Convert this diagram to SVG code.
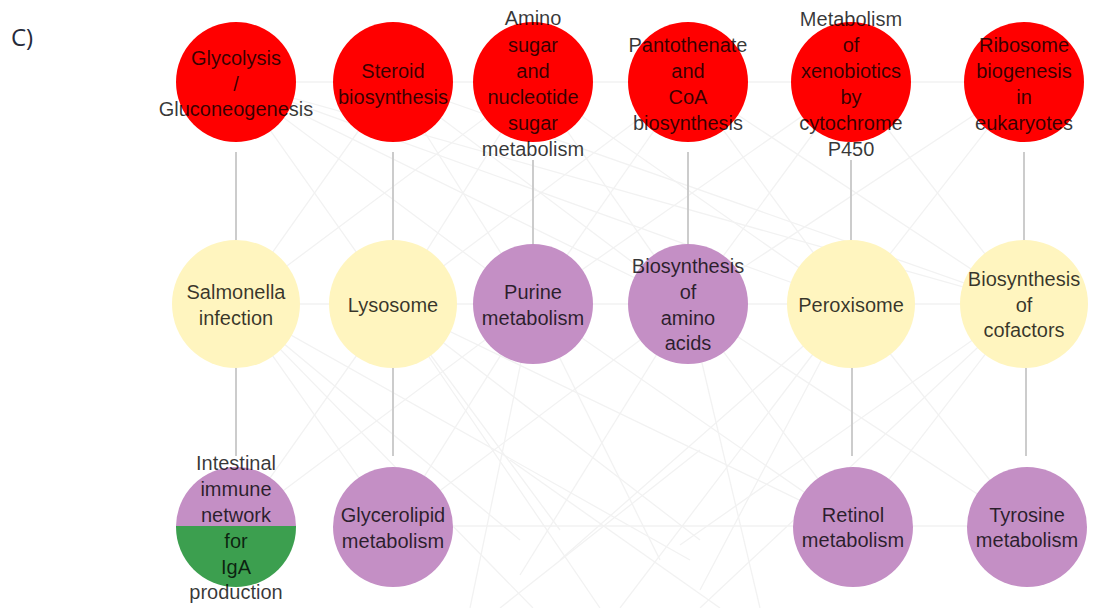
<svg xmlns="http://www.w3.org/2000/svg" width="1096" height="608" viewBox="0 0 1096 608">
  <style>
    .bg { fill: #ffffff; }
    .faint line { stroke: #f2f2f2; stroke-width: 1.3; }
    .edge { stroke: #cccccc; stroke-width: 2; }
    .red { fill: #ff0000; }
    .yellow { fill: #fff5bf; }
    .purple { fill: #c48fc5; }
    .green { fill: #3c9f4f; }
    text.lbl { font-family: "Liberation Sans", Arial, sans-serif; font-size: 20px; fill: #000000; fill-opacity: 0.78; text-anchor: middle; }
    text.tag { font-family: "Open Sans", "Liberation Sans", sans-serif; font-size: 24px; fill: #262a3a; }
  </style>
  <defs>
    <clipPath id="topHalf"><rect x="170" y="460" width="132" height="66"/></clipPath>
    <clipPath id="bottomHalf"><rect x="170" y="526" width="132" height="70"/></clipPath>
  </defs>
  <rect class="bg" x="0" y="0" width="1096" height="608"/>

  <text class="tag" x="11" y="46">C)</text>

  <!-- light background network -->
  <g id="connectors">
    <g class="faint">
      <line x1="236" y1="82" x2="1024" y2="82"/>
      <line x1="236" y1="304" x2="1024" y2="304"/>
      <line x1="393" y1="526" x2="1026" y2="526"/>
      <line x1="236" y1="82" x2="393" y2="304"/>
      <line x1="236" y1="82" x2="533" y2="304"/>
      <line x1="236" y1="82" x2="688" y2="304"/>
      <line x1="236" y1="82" x2="851" y2="304"/>
      <line x1="393" y1="82" x2="236" y2="304"/>
      <line x1="393" y1="82" x2="533" y2="304"/>
      <line x1="393" y1="82" x2="688" y2="304"/>
      <line x1="393" y1="82" x2="1024" y2="304"/>
      <line x1="533" y1="82" x2="236" y2="304"/>
      <line x1="533" y1="82" x2="393" y2="304"/>
      <line x1="533" y1="82" x2="688" y2="304"/>
      <line x1="533" y1="82" x2="851" y2="304"/>
      <line x1="688" y1="82" x2="393" y2="304"/>
      <line x1="688" y1="82" x2="533" y2="304"/>
      <line x1="688" y1="82" x2="851" y2="304"/>
      <line x1="688" y1="82" x2="1024" y2="304"/>
      <line x1="851" y1="82" x2="533" y2="304"/>
      <line x1="851" y1="82" x2="688" y2="304"/>
      <line x1="851" y1="82" x2="1024" y2="304"/>
      <line x1="1024" y1="82" x2="688" y2="304"/>
      <line x1="1024" y1="82" x2="851" y2="304"/>
      <line x1="236" y1="82" x2="1024" y2="304"/>
      <line x1="236" y1="304" x2="393" y2="526"/>
      <line x1="236" y1="304" x2="520" y2="540"/>
      <line x1="236" y1="304" x2="690" y2="560"/>
      <line x1="236" y1="304" x2="533" y2="608"/>
      <line x1="393" y1="304" x2="236" y2="526"/>
      <line x1="393" y1="304" x2="560" y2="530"/>
      <line x1="393" y1="304" x2="700" y2="540"/>
      <line x1="393" y1="304" x2="853" y2="526"/>
      <line x1="393" y1="304" x2="600" y2="608"/>
      <line x1="533" y1="304" x2="236" y2="526"/>
      <line x1="533" y1="304" x2="393" y2="526"/>
      <line x1="533" y1="304" x2="660" y2="560"/>
      <line x1="533" y1="304" x2="853" y2="526"/>
      <line x1="533" y1="304" x2="470" y2="608"/>
      <line x1="688" y1="304" x2="393" y2="526"/>
      <line x1="688" y1="304" x2="520" y2="575"/>
      <line x1="688" y1="304" x2="853" y2="526"/>
      <line x1="688" y1="304" x2="1026" y2="526"/>
      <line x1="688" y1="304" x2="760" y2="608"/>
      <line x1="851" y1="304" x2="560" y2="560"/>
      <line x1="851" y1="304" x2="700" y2="590"/>
      <line x1="851" y1="304" x2="1026" y2="526"/>
      <line x1="851" y1="304" x2="620" y2="608"/>
      <line x1="1024" y1="304" x2="680" y2="545"/>
      <line x1="1024" y1="304" x2="853" y2="526"/>
      <line x1="1024" y1="304" x2="700" y2="608"/>
      <line x1="510" y1="460" x2="720" y2="608"/>
      <line x1="700" y1="450" x2="500" y2="608"/>
    </g>
    <!-- column links -->
    <line class="edge" x1="236" y1="152" x2="236" y2="240"/>
    <line class="edge" x1="393" y1="152" x2="393" y2="240"/>
    <line class="edge" x1="533" y1="160" x2="533" y2="244"/>
    <line class="edge" x1="688" y1="152" x2="688" y2="244"/>
    <line class="edge" x1="851" y1="160" x2="851" y2="240"/>
    <line class="edge" x1="1024" y1="152" x2="1024" y2="240"/>
    <line class="edge" x1="236" y1="368" x2="236" y2="456"/>
    <line class="edge" x1="393" y1="368" x2="393" y2="456"/>
    <line class="edge" x1="852" y1="368" x2="852" y2="456"/>
    <line class="edge" x1="1026" y1="368" x2="1026" y2="456"/>
  </g>

  <!-- top row -->
  <g id="glycolysis">
    <circle class="red" cx="236" cy="82" r="60"/>
    <text class="lbl" x="236" y="65">Glycolysis</text>
    <text class="lbl" x="236" y="91">/</text>
    <text class="lbl" x="236" y="116">Gluconeogenesis</text>
  </g>
  <g id="steroid">
    <circle class="red" cx="393" cy="82" r="60"/>
    <text class="lbl" x="393" y="78">Steroid</text>
    <text class="lbl" x="393" y="104">biosynthesis</text>
  </g>
  <g id="amino-sugar">
    <circle class="red" cx="533" cy="82" r="60"/>
    <text class="lbl" x="533" y="25">Amino</text>
    <text class="lbl" x="533" y="52">sugar</text>
    <text class="lbl" x="533" y="78">and</text>
    <text class="lbl" x="533" y="104">nucleotide</text>
    <text class="lbl" x="533" y="130">sugar</text>
    <text class="lbl" x="533" y="156">metabolism</text>
  </g>
  <g id="pantothenate">
    <circle class="red" cx="688" cy="82" r="60"/>
    <text class="lbl" x="688" y="52">Pantothenate</text>
    <text class="lbl" x="688" y="78">and</text>
    <text class="lbl" x="688" y="104">CoA</text>
    <text class="lbl" x="688" y="130">biosynthesis</text>
  </g>
  <g id="xenobiotics">
    <circle class="red" cx="851" cy="82" r="60"/>
    <text class="lbl" x="851" y="26">Metabolism</text>
    <text class="lbl" x="851" y="52">of</text>
    <text class="lbl" x="851" y="78">xenobiotics</text>
    <text class="lbl" x="851" y="104">by</text>
    <text class="lbl" x="851" y="130">cytochrome</text>
    <text class="lbl" x="851" y="156">P450</text>
  </g>
  <g id="ribosome">
    <circle class="red" cx="1024" cy="82" r="60"/>
    <text class="lbl" x="1024" y="52">Ribosome</text>
    <text class="lbl" x="1024" y="78">biogenesis</text>
    <text class="lbl" x="1024" y="104">in</text>
    <text class="lbl" x="1024" y="130">eukaryotes</text>
  </g>

  <!-- middle row -->
  <g id="salmonella">
    <circle class="yellow" cx="236" cy="304" r="64"/>
    <text class="lbl" x="236" y="299">Salmonella</text>
    <text class="lbl" x="236" y="325">infection</text>
  </g>
  <g id="lysosome">
    <circle class="yellow" cx="393" cy="304" r="64"/>
    <text class="lbl" x="393" y="312">Lysosome</text>
  </g>
  <g id="purine">
    <circle class="purple" cx="533" cy="304" r="60"/>
    <text class="lbl" x="533" y="299">Purine</text>
    <text class="lbl" x="533" y="325">metabolism</text>
  </g>
  <g id="amino-acids">
    <circle class="purple" cx="688" cy="304" r="60"/>
    <text class="lbl" x="688" y="273">Biosynthesis</text>
    <text class="lbl" x="688" y="299">of</text>
    <text class="lbl" x="688" y="325">amino</text>
    <text class="lbl" x="688" y="350">acids</text>
  </g>
  <g id="peroxisome">
    <circle class="yellow" cx="851" cy="304" r="64"/>
    <text class="lbl" x="851" y="312">Peroxisome</text>
  </g>
  <g id="cofactors">
    <circle class="yellow" cx="1024" cy="304" r="64"/>
    <text class="lbl" x="1024" y="286">Biosynthesis</text>
    <text class="lbl" x="1024" y="312">of</text>
    <text class="lbl" x="1024" y="337">cofactors</text>
  </g>

  <!-- bottom row -->
  <g id="intestinal">
    <circle class="purple" cx="236" cy="527" r="60" clip-path="url(#topHalf)"/>
    <circle class="green" cx="236" cy="527" r="60" clip-path="url(#bottomHalf)"/>
    <text class="lbl" x="236" y="470">Intestinal</text>
    <text class="lbl" x="236" y="496">immune</text>
    <text class="lbl" x="236" y="522">network</text>
    <text class="lbl" x="236" y="548">for</text>
    <text class="lbl" x="236" y="574">IgA</text>
    <text class="lbl" x="236" y="599">production</text>
  </g>
  <g id="glycerolipid">
    <circle class="purple" cx="393" cy="527" r="60"/>
    <text class="lbl" x="393" y="522">Glycerolipid</text>
    <text class="lbl" x="393" y="548">metabolism</text>
  </g>
  <g id="retinol">
    <circle class="purple" cx="853" cy="527" r="60"/>
    <text class="lbl" x="853" y="522">Retinol</text>
    <text class="lbl" x="853" y="547">metabolism</text>
  </g>
  <g id="tyrosine">
    <circle class="purple" cx="1027" cy="527" r="60"/>
    <text class="lbl" x="1027" y="522">Tyrosine</text>
    <text class="lbl" x="1027" y="547">metabolism</text>
  </g>
</svg>
